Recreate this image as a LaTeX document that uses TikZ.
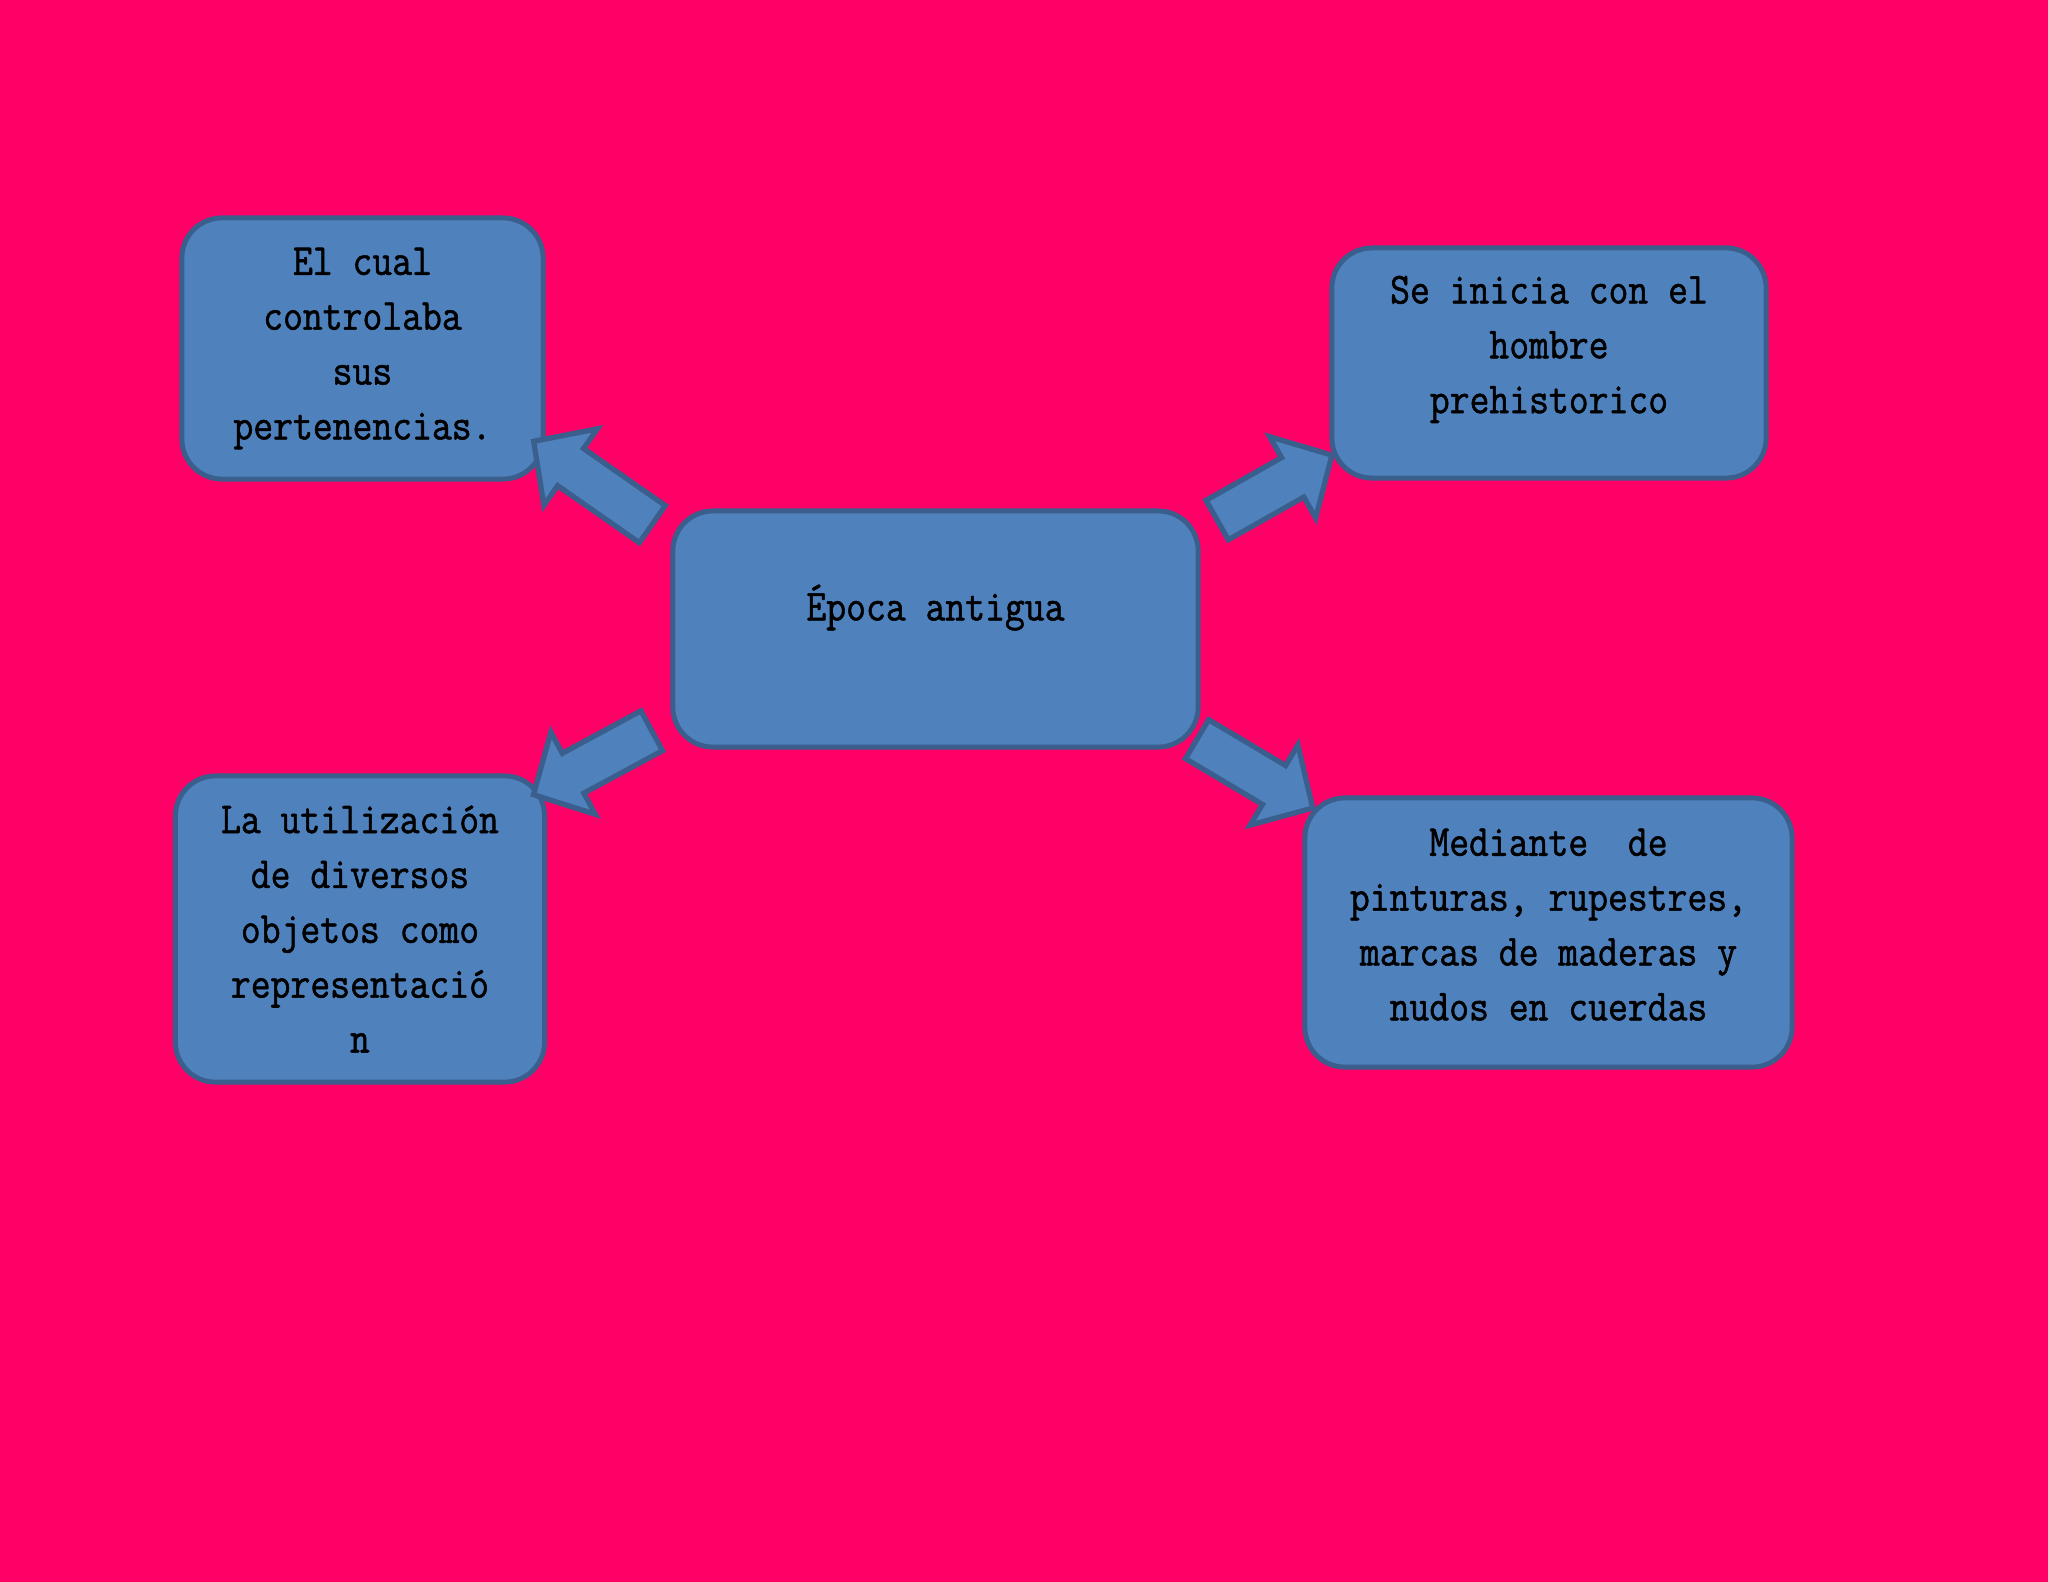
\documentclass[tikz,border=0pt]{standalone}
\usepackage{fontspec}
\setmainfont[FakeStretch=0.87,FakeBold=1.2]{Latin Modern Mono}
\usetikzlibrary{shapes.arrows,calc}
\definecolor{fondo}{HTML}{FF0066}
\definecolor{azulcaja}{HTML}{4F81BD}
\definecolor{azulborde}{HTML}{3A5F8D}

% flecha de bloque entre dos puntos con nombre
\newcommand{\flecha}[3]{%
\path let \p1=(#2), \p2=(#3), \n1={atan2(\y2-\y1,\x2-\x1)}, \n2={veclen(\x2-\x1,\y2-\y1)} in
   node[bloque,rotate=\n1,minimum height=\n2] (#1) at ($(#2)!0.5!(#3)$) {};}

\begin{document}
\begin{tikzpicture}[x=0.01cm,y=-0.01cm,caja/.style={rectangle,rounded corners=0.4cm,draw=azulborde,fill=azulcaja,line width=1.4pt,align=center,inner sep=0pt,font=\fontsize{12.6}{15.6}\selectfont},bloque/.style={single arrow,draw=azulborde,fill=azulcaja,line width=1.5pt,inner sep=0.2cm,single arrow head extend=0.24cm,single arrow tip angle=92}]
\fill[fondo] (0,0) rectangle (2048,1582);
\useasboundingbox (0,0) rectangle (2048,1582);
\node[caja,minimum width=5.25cm,minimum height=2.36cm] (centro) at (935.5,629) {Época antigua\rule[-0.53cm]{0pt}{0pt}};
\node[caja,minimum width=3.61cm,minimum height=2.61cm] (cual) at (362.5,348.5) {El cual\\controlaba\\sus\\pertenencias.};
\node[caja,minimum width=4.34cm,minimum height=2.30cm] (inicia) at (1549,363) {Se inicia con el\\hombre\\prehistorico\rule[-0.37cm]{0pt}{0pt}};
\node[caja,minimum width=3.69cm,minimum height=3.06cm] (utilizacion) at (360,929) {La utilización\\de diversos\\objetos como\\representació\\n};
\node[caja,minimum width=4.87cm,minimum height=2.69cm] (mediante) at (1548.5,932.5) {Mediante\ \ de\\pinturas, rupestres,\\marcas de maderas y\\nudos en cuerdas\rule[-0.16cm]{0pt}{0pt}};
\coordinate (c1) at ([shift={(-9,22)}]centro.north west);
\coordinate (p1) at ([shift={(-3,-34)}]cual.south east);
\coordinate (c2) at ([shift={(7,17)}]centro.north east);
\coordinate (p2) at ([shift={(-7,-20)}]inicia.south west);
\coordinate (c3) at ([shift={(-9,-24)}]centro.south west);
\coordinate (p3) at ([shift={(-4,16)}]utilizacion.north east);
\coordinate (c4) at ([shift={(-13,-16)}]centro.south east);
\coordinate (p4) at ([shift={(1,7)}]mediante.north west);
\foreach \f/\a/\b in {f1/c1/p1,f2/c2/p2,f3/c3/p3,f4/c4/p4} {
   \flecha{\f}{\a}{\b}
}
\end{tikzpicture}
\end{document}
